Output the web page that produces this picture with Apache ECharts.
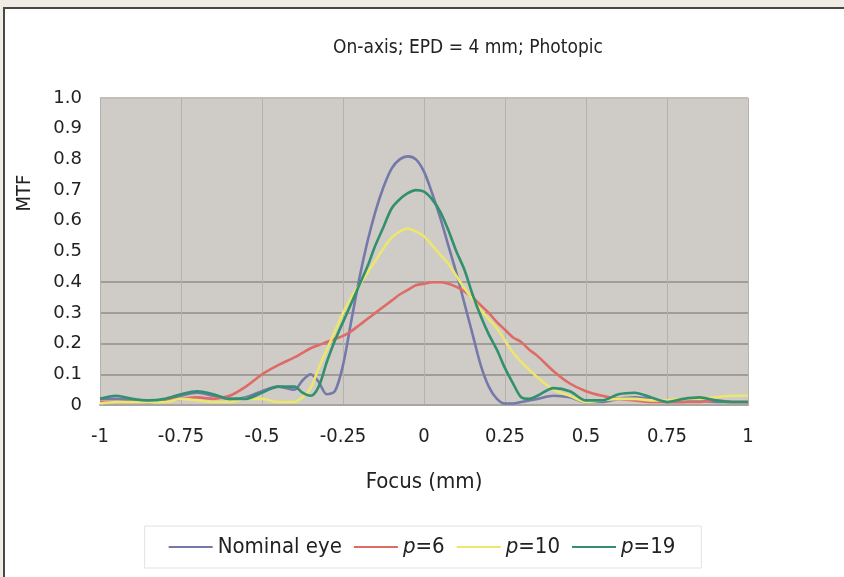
<!DOCTYPE html>
<html>
<head>
<meta charset="utf-8">
<script src="https://cdn.jsdelivr.net/npm/echarts@6/dist/echarts.min.js"></script>
<style>
  html, body { margin: 0; padding: 0; background: #ffffff; }
  #frame { position: absolute; left: 0; top: 0; width: 844px; height: 577px; background: #f0ebe4; }
  #inner { position: absolute; left: 3px; top: 7px; width: 841px; height: 570px; background: #ffffff;
           border-top: 2px solid #4a4846; border-left: 2px solid #4a4846; box-sizing: border-box; }
  #chart { position: absolute; left: 0; top: 0; width: 844px; height: 577px; }
</style>
</head>
<body>
<div id="frame"><div id="inner"></div></div>
<div id="chart"></div>
<script>
// Focus positions (mm)
const focus = [-1, -0.95, -0.9, -0.85, -0.8, -0.75, -0.7, -0.65, -0.6, -0.55, -0.5, -0.45, -0.4,
  -0.375, -0.35, -0.325, -0.3, -0.275, -0.25, -0.225, -0.2, -0.175, -0.15, -0.125, -0.1, -0.075, -0.05, -0.025,
  0, 0.025, 0.05, 0.075, 0.1, 0.125, 0.15, 0.175, 0.2, 0.225, 0.25, 0.275, 0.3, 0.325,
  0.35, 0.4, 0.45, 0.5, 0.55, 0.6, 0.65, 0.7, 0.75, 0.8, 0.85, 0.9, 0.95, 1];

const nominalEye = [0.02, 0.02, 0.015, 0.01, 0.015, 0.03, 0.04, 0.03, 0.02, 0.025, 0.045, 0.06, 0.05,
  0.08, 0.10, 0.075, 0.035, 0.045, 0.13, 0.27, 0.41, 0.53, 0.63, 0.71, 0.77, 0.80, 0.81, 0.80,
  0.76, 0.69, 0.61, 0.52, 0.43, 0.33, 0.23, 0.13, 0.06, 0.02, 0.005, 0.005, 0.01, 0.015,
  0.02, 0.03, 0.025, 0.01, 0.01, 0.02, 0.025, 0.02, 0.01, 0.01, 0.015, 0.01, 0.01, 0.01];

const p6 = [0.01, 0.01, 0.01, 0.01, 0.015, 0.02, 0.025, 0.02, 0.03, 0.06, 0.10, 0.13, 0.155,
  0.17, 0.185, 0.195, 0.205, 0.215, 0.225, 0.24, 0.26, 0.28, 0.30, 0.32, 0.34, 0.36, 0.375, 0.39,
  0.395, 0.40, 0.40, 0.395, 0.385, 0.37, 0.35, 0.325, 0.30, 0.27, 0.245, 0.22, 0.205, 0.18,
  0.16, 0.11, 0.07, 0.045, 0.03, 0.02, 0.015, 0.01, 0.01, 0.01, 0.01, 0.015, 0.01, 0.01];

const p10 = [0.005, 0.01, 0.01, 0.01, 0.01, 0.02, 0.015, 0.01, 0.01, 0.02, 0.02, 0.01, 0.01,
  0.025, 0.055, 0.12, 0.18, 0.24, 0.30, 0.35, 0.39, 0.43, 0.47, 0.51, 0.545, 0.565, 0.575, 0.565,
  0.55, 0.52, 0.49, 0.46, 0.42, 0.38, 0.345, 0.31, 0.28, 0.25, 0.21, 0.17, 0.14, 0.115,
  0.09, 0.05, 0.03, 0.01, 0.015, 0.02, 0.02, 0.015, 0.015, 0.02, 0.02, 0.025, 0.03, 0.03];

const p19 = [0.02, 0.03, 0.02, 0.015, 0.02, 0.035, 0.045, 0.035, 0.02, 0.02, 0.04, 0.06, 0.06,
  0.04, 0.03, 0.06, 0.14, 0.21, 0.27, 0.33, 0.39, 0.45, 0.52, 0.58, 0.64, 0.67, 0.69, 0.70,
  0.695, 0.67, 0.63, 0.57, 0.50, 0.44, 0.36, 0.29, 0.23, 0.18, 0.12, 0.07, 0.025, 0.02,
  0.03, 0.055, 0.045, 0.015, 0.015, 0.035, 0.04, 0.025, 0.01, 0.02, 0.025, 0.015, 0.01, 0.01];

const seriesNames = ['Nominal eye', 'p=6', 'p=10', 'p=19'];
const seriesValues = [nominalEye, p6, p10, p19];
const seriesColors = ['#7479aa', '#df6b66', '#ebe76e', '#32906f'];

const fontMain = '"DejaVu Sans Condensed", "Liberation Sans Narrow", "Open Sans", sans-serif';
const fontTicks = '"DejaVu Sans", Verdana, sans-serif';

const chart = echarts.init(document.getElementById('chart'), null, { renderer: 'canvas' });

const series = seriesNames.map((name, i) => ({
  name: name,
  type: 'line',
  data: focus.map((x, k) => [x, seriesValues[i][k]]),
  smooth: 0.3,
  symbol: 'none',
  showSymbol: false,
  lineStyle: { color: seriesColors[i], width: 2.6 },
  itemStyle: { color: seriesColors[i] },
  z: 2 + i
}));

const hColors = ['transparent', '#a09c98', '#a09c98', '#a09c98', '#a09c98',
  'transparent', 'transparent', 'transparent', 'transparent', 'transparent', '#c2beba'];

chart.setOption({
  backgroundColor: 'transparent',
  animation: false,
  title: {
    text: 'On-axis; EPD = 4 mm; Photopic',
    left: 463,
    textAlign: 'center',
    top: 34,
    textStyle: { fontFamily: fontMain, fontSize: 19, fontWeight: 'normal', color: '#222' }
  },
  graphic: [{
    type: 'text',
    x: 25, y: 193,
    rotation: Math.PI / 2,
    style: { text: 'MTF', align: 'center', verticalAlign: 'middle',
             font: '20px ' + fontMain, fill: '#222' }
  }],
  grid: { left: 100, right: 96, top: 98, bottom: 172, show: true, backgroundColor: '#cfcbc7', borderWidth: 0 },
  xAxis: {
    type: 'value',
    min: -1, max: 1, interval: 0.25,
    name: 'Focus (mm)',
    nameLocation: 'middle',
    nameGap: 66,
    nameTextStyle: { fontFamily: fontMain, fontSize: 22, color: '#222' },
    axisLine: { show: true, lineStyle: { color: '#a9a5a1', width: 2 } },
    axisTick: { show: false },
    axisLabel: { margin: 22, fontFamily: fontMain, fontSize: 20, color: '#222' },
    splitLine: { show: true, lineStyle: { color: '#b5b1ad', width: 1 } }
  },
  yAxis: {
    type: 'value',
    min: 0, max: 1, interval: 0.1,
    axisLine: { show: false },
    axisTick: { show: false },
    axisLabel: {
      margin: 18, fontFamily: fontTicks, fontSize: 18, color: '#222',
      formatter: v => (v === 0 ? '0' : v.toFixed(1))
    },
    splitLine: { show: true, lineStyle: { color: hColors, width: 1.8 } }
  },
  legend: {
    bottom: 9,
    left: 'center',
    itemWidth: 44,
    itemHeight: 2,
    itemGap: 12,
    icon: 'rect',
    padding: [10, 26, 10, 24],
    borderColor: '#e2e2e2',
    borderWidth: 1,
    data: seriesNames,
    formatter: name => name.startsWith('p=') ? '{i|p}{n|' + name.slice(1) + '}' : '{n|' + name + '}',
    textStyle: {
      fontFamily: fontMain, fontSize: 22, color: '#222',
      rich: {
        i: { fontFamily: fontMain, fontSize: 22, fontStyle: 'italic', color: '#222' },
        n: { fontFamily: fontMain, fontSize: 22, color: '#222' }
      }
    }
  },
  series: series
});
</script>
</body>
</html>
